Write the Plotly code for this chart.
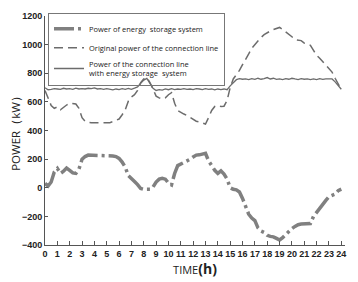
import plotly.graph_objects as go

hours = [i * 0.25 for i in range(97)]

ess_power = [30, 12, 40, 110, 135, 100, 115, 138, 122, 104, 100, 130,
             199, 218, 228, 228, 228, 228, 228, 226, 228, 226, 222, 218,
             205, 180, 144, 85, 60, 44, 22, -5, -11, -11, -11, 5,
             40, 60, 66, 60, 33, 20, 100, 155, 166, 172, 185, 199,
             215, 228, 230, 235, 240, 188, 150, 122, 100, 118, 95, 60,
             0, -11, -15, -30, -75, -125, -185, -212, -230, -280, -302, -312,
             -332, -340, -343, -354, -365, -348, -325, -305, -285, -270, -258, -254,
             -254, -254, -250, -200, -170, -150, -120, -88, -62, -55, -45, -20, -10]

original_power = [680, 620, 575, 555, 565, 545, 565, 578, 590, 590, 585, 555,
                  490, 465, 457, 455, 455, 452, 455, 450, 452, 455, 462, 472,
                  480, 510, 545, 605, 635, 650, 680, 735, 760, 770, 735, 690,
                  640, 628, 620, 628, 650, 664, 590, 540, 525, 515, 505, 490,
                  478, 465, 460, 452, 445, 490, 540, 568, 576, 568, 570, 610,
                  700, 760, 790, 820, 860, 895, 935, 975, 1000, 1030, 1050, 1070,
                  1085, 1095, 1105, 1110, 1120, 1105, 1090, 1075, 1055, 1035, 1030, 1028,
                  1010, 1005, 995, 960, 925, 905, 880, 850, 825, 808, 765, 725, 686]

line_with_ess = [698, 685, 688, 692, 690, 688, 695, 690, 692, 688, 696, 690,
                 693, 690, 695, 692, 697, 690, 692, 688, 693, 690, 684, 690,
                 686, 693, 688, 694, 688, 696, 705, 730, 752, 764, 725, 695,
                 680, 686, 682, 690, 685, 692, 686, 690, 688, 693, 687, 690,
                 686, 692, 690, 686, 692, 688, 690, 684, 690, 686, 690, 685,
                 712, 735, 755, 762, 758, 760, 755, 762, 757, 765, 758, 762,
                 770, 760, 765, 757, 760, 755, 762, 758, 765, 760, 756, 762,
                 758, 760, 755, 760, 756, 762, 757, 760, 758, 760, 740, 715, 688]

x_ticks = list(range(25))
y_ticks = [-400, -200, 0, 200, 400, 600, 800, 1000, 1200]

fig = go.Figure()
fig.add_trace(go.Scatter(
    x=hours, y=ess_power, mode="lines", name="Power of energy  storage system",
    line=dict(color="#808080", width=3.5, dash="20px,4px,3px,4px")))
fig.add_trace(go.Scatter(
    x=hours, y=original_power, mode="lines", name="Original power of the connection line",
    line=dict(color="#6c6c6c", width=1.5, dash="9px,5px")))
fig.add_trace(go.Scatter(
    x=hours, y=line_with_ess, mode="lines",
    name="Power of the connection line<br>with energy storage  system",
    line=dict(color="#6c6c6c", width=1.3)))

axis_font = dict(family="Liberation Sans", size=9, color="#222", weight="bold")
fig.update_layout(
    width=350, height=274,
    margin=dict(l=37, r=13, t=5, b=37),
    paper_bgcolor="white", plot_bgcolor="white",
    showlegend=True,
    legend=dict(x=0.01, y=1.012, xanchor="left", yanchor="top",
                bordercolor="#777", borderwidth=1, bgcolor="rgba(255,255,255,0)",
                font=dict(family="Open Sans", size=7.5, color="#222"),
                itemwidth=30, tracegroupgap=0),
    xaxis=dict(range=[0, 24.3], tickvals=x_ticks, ticks="inside", ticklen=4,
               tickcolor="#555", showline=True, linecolor="#555", linewidth=1,
               showgrid=False, zeroline=False, tickfont=axis_font, automargin=False,
               title=dict(text="TIME<span style='font-size:14px'><b>(h)</b></span>",
                          font=dict(family="Open Sans", size=11, color="#222"),
                          standoff=2)),
    yaxis=dict(range=[-400, 1200], tickvals=y_ticks, ticks="inside", ticklen=3,
               tickcolor="#555", showline=True, linecolor="#555", linewidth=1,
               showgrid=False, zeroline=False, tickfont=axis_font, automargin=False,
               title=dict(text="POWER（kW）",
                          font=dict(family="Open Sans", size=11.5, color="#222"),
                          standoff=8)),
)

fig.write_html("out.html")
